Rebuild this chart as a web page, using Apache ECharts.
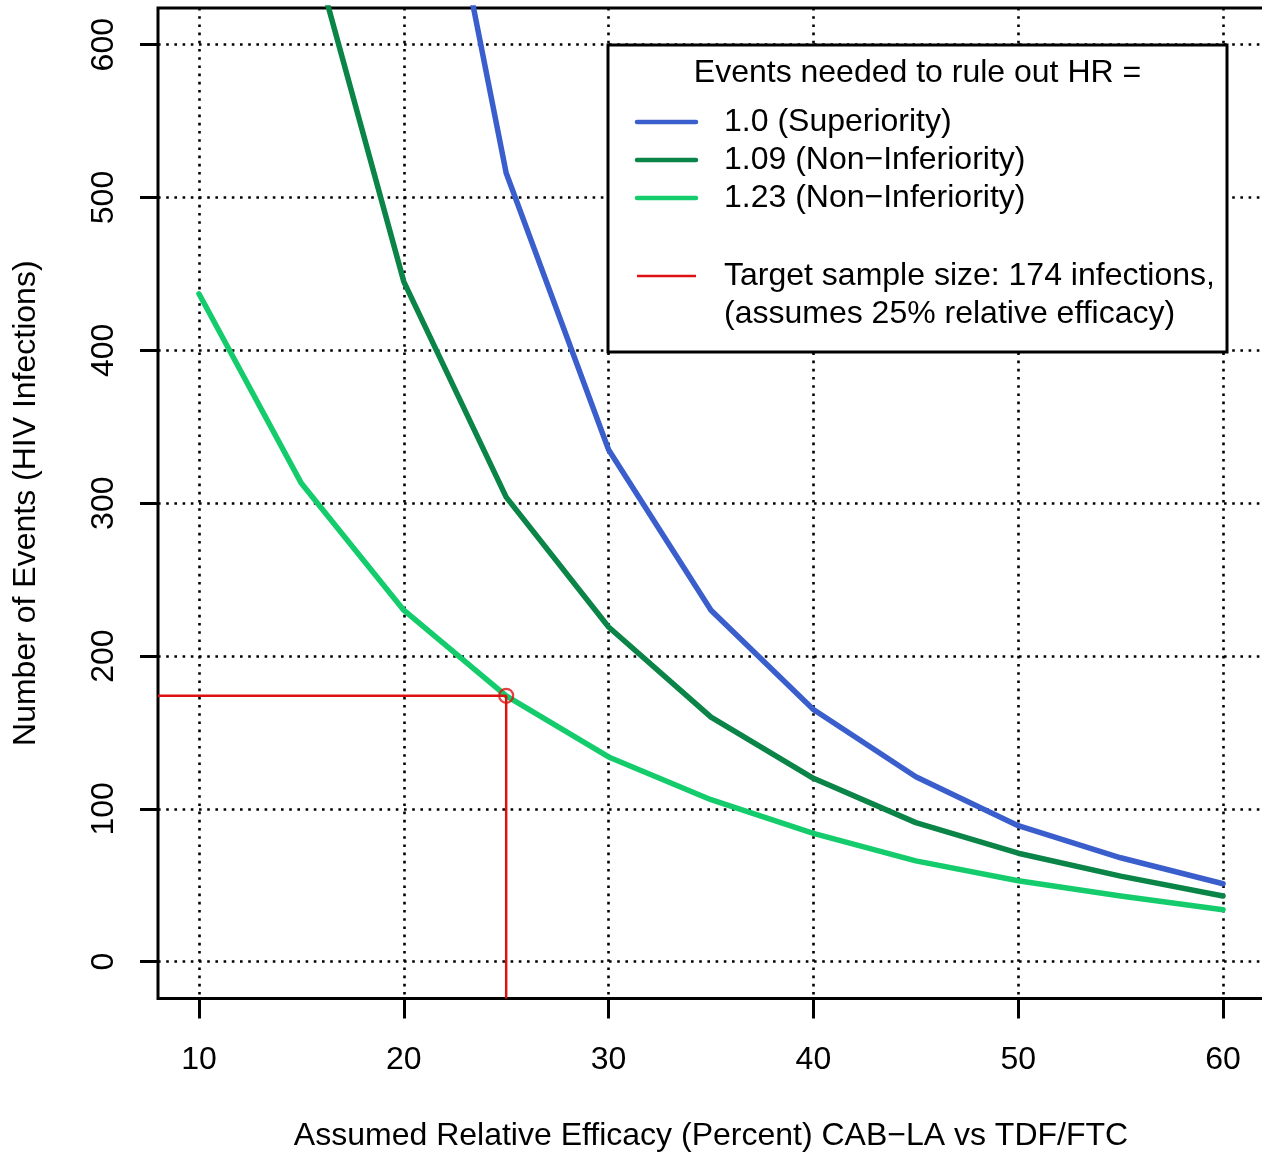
<!DOCTYPE html>
<html>
<head>
<meta charset="utf-8">
<script src="https://cdn.jsdelivr.net/npm/echarts@6/dist/echarts.min.js"></script>
<style>html,body{margin:0;padding:0;background:#fff;}#chart{width:1262px;height:1152px;}</style>
</head>
<body>
<div id="chart"></div>
<script>
// ---- data ----
const efficacy = [10, 15, 20, 25, 30, 35, 40, 45, 50, 55, 60];
const eventsHR100 = [3830, 1610, 855, 516, 335, 230, 165, 121, 89, 68, 51];
const eventsHR109 = [1160, 689, 445, 304, 219, 160, 120, 91, 71, 56, 43];
const eventsHR123 = [437, 313, 230, 174, 134, 106, 84, 66, 53, 43, 34];
const targetEvents = 174;
const targetEfficacy = 25;
const xTicks = [10, 20, 30, 40, 50, 60];
const yTicks = [0, 100, 200, 300, 400, 500, 600];
const seriesNames = ['1.0 (Superiority)', '1.09 (Non\u2212Inferiority)', '1.23 (Non\u2212Inferiority)'];
const legendTitle = 'Events needed to rule out HR =';
const targetText1 = 'Target sample size: 174 infections,';
const targetText2 = '(assumes 25% relative efficacy)';
const xTitle = 'Assumed Relative Efficacy (Percent) CAB\u2212LA vs TDF/FTC';
const yTitle = 'Number of Events (HIV Infections)';

// ---- styling ----
const colors = ['#3A5FCD', '#0A8447', '#14CC6C'];
const red = '#DD1111';
const FONT = '"Liberation Sans", Arial, sans-serif';
const FS = 32;
const xMin = 8, xMax = 62, yMin = -24, yMax = 624;

const pairs = (ys) => efficacy.map((x, i) => [x, ys[i]]);
const dotted = { color: '#000', width: 2.6, type: [2.6, 5.6] };

const chart = echarts.init(document.getElementById('chart'), null, { renderer: 'canvas' });

const lineSeries = [eventsHR100, eventsHR109, eventsHR123].map((ys, i) => ({
  name: seriesNames[i],
  type: 'line',
  data: pairs(ys),
  showSymbol: false,
  clip: true,
  lineStyle: { color: colors[i], width: 5.5, join: 'round', cap: 'round' },
  itemStyle: { color: colors[i] },
  z: 3,
  silent: true
}));

const legX = 608, legY = 45, legW = 619, legH = 307;
const lineX1 = 637, lineX2 = 696, textX = 724;
const rowYs = [122, 160, 198, 276];
const legendItems = [];
[colors[0], colors[1], colors[2], red].forEach((c, i) => {
  legendItems.push({
    type: 'line',
    shape: { x1: lineX1, y1: rowYs[i], x2: lineX2, y2: rowYs[i] },
    style: { stroke: c, lineWidth: i === 3 ? 2.5 : 4.5, lineCap: i === 3 ? 'butt' : 'round' },
    z: 101
  });
});
const legendTexts = [seriesNames[0], seriesNames[1], seriesNames[2], targetText1, targetText2];
const textYs = [122, 160, 198, 276, 314];
legendTexts.forEach((t, i) => {
  legendItems.push({
    type: 'text',
    x: textX, y: textYs[i],
    style: { text: t, font: FS + 'px ' + FONT, fill: '#000', textAlign: 'left', textVerticalAlign: 'middle' },
    z: 101
  });
});

chart.setOption({
  animation: false,
  backgroundColor: '#fff',
  grid: {
    left: 158, top: 8, right: -2, bottom: 153.6,
    containLabel: false, outerBoundsMode: 'none',
    show: true, borderColor: '#000', borderWidth: 3, backgroundColor: 'transparent'
  },
  xAxis: {
    type: 'value', min: xMin, max: xMax,
    axisLine: { show: false, onZero: false },
    axisTick: { show: true, customValues: xTicks, length: 20, lineStyle: { color: '#000', width: 3 } },
    axisLabel: { customValues: xTicks, margin: 46, fontSize: FS, color: '#000', fontFamily: FONT },
    splitLine: { show: true, lineStyle: dotted },
    name: xTitle, nameLocation: 'middle', nameGap: 122,
    nameTextStyle: { fontSize: FS, color: '#000', fontFamily: FONT }
  },
  yAxis: {
    type: 'value', min: yMin, max: yMax,
    axisLine: { show: false, onZero: false },
    axisTick: { show: true, customValues: yTicks, length: 18, lineStyle: { color: '#000', width: 3 } },
    axisLabel: { customValues: yTicks, rotate: 90, margin: 38, fontSize: FS, color: '#000', fontFamily: FONT },
    splitLine: { show: true, lineStyle: dotted },
    name: yTitle, nameLocation: 'middle', nameGap: 116,
    nameTextStyle: { fontSize: FS, color: '#000', fontFamily: FONT }
  },
  series: lineSeries.concat([
    {
      name: 'target',
      type: 'line',
      data: [[xMin, targetEvents], [targetEfficacy, targetEvents], [targetEfficacy, yMin]],
      showSymbol: false,
      lineStyle: { color: red, width: 2.5 },
      z: 4, silent: true
    },
    {
      name: 'targetPoint',
      type: 'scatter',
      data: [[targetEfficacy, targetEvents]],
      symbol: 'circle', symbolSize: 14,
      itemStyle: { color: 'rgba(0,0,0,0)', borderColor: red, borderWidth: 2.2 },
      z: 5, silent: true
    }
  ]),
  graphic: [
    {
      type: 'rect',
      shape: { x: legX, y: legY, width: legW, height: legH },
      style: { fill: '#fff', stroke: '#000', lineWidth: 3 },
      z: 100
    },
    {
      type: 'text',
      x: legX + legW / 2, y: 73,
      style: { text: legendTitle, font: FS + 'px ' + FONT, fill: '#000', textAlign: 'center', textVerticalAlign: 'middle' },
      z: 101
    }
  ].concat(legendItems)
});
</script>
</body>
</html>
